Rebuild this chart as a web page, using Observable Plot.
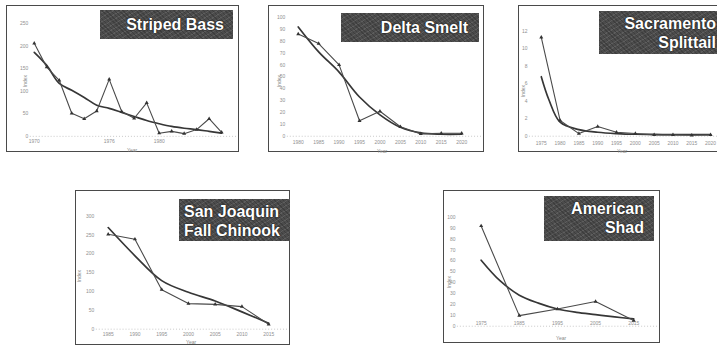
<!DOCTYPE html>
<html><head><meta charset="utf-8">
<script src="https://cdn.jsdelivr.net/npm/d3@7"></script>
<script src="https://cdn.jsdelivr.net/npm/@observablehq/plot@0.6"></script>
<style>
body{margin:0;background:#fff;}
#root{position:relative;width:717px;height:345px;overflow:hidden;font-family:"Liberation Sans",Arial,sans-serif;background:#fff;}
.panel{position:absolute;box-sizing:border-box;border:1.5px solid #4a4a4a;background:#fff;}
.panel svg{position:absolute;left:-1.5px;top:-1.5px;overflow:visible;}
.label{position:absolute;background-color:#4c4c4c;
  background-image:repeating-linear-gradient(45deg,rgba(0,0,0,0.18) 0 1px,transparent 1px 3px),repeating-linear-gradient(-30deg,rgba(255,255,255,0.10) 0 1px,transparent 1px 4px);
  color:#fff;font-weight:bold;font-size:16px;line-height:19px;box-sizing:border-box;white-space:nowrap;
  text-shadow:0 0 1px #111,0 0 2px #222;}
.ax{position:absolute;font-size:5px;color:#888;white-space:nowrap;}
</style></head><body><div id="root"></div><script>
// ---- data ----
const bassYears = [1970,1971,1972,1973,1974,1975,1976,1977,1978,1979,1980,1981,1982,1983,1984,1985];
const bassIndex = [206,153,124,51,39,56,126,55,40,74,7,11,6,15,39,9];
const bassFit   = [186,157,117,102,86,69,62,53,44,35,28,22,18,15,11,7];
const bassYTicks = [0,50,100,150,200,250];
const bassXTicks = [1970,1976,1980];

const smeltYears = [1980,1985,1990,1995,2000,2005,2010,2015,2020];
const smeltIndex = [86,78,60,13,21,8,2,2.5,2.5];
const smeltFit   = [92,71,54,33,18,7.5,2.8,1.7,1.7];
const smeltYTicks = [0,10,20,30,40,50,60,70,80,90,100];

const splitYears = [1975,1980,1985,1990,1995,2000,2005,2010,2015,2020];
const splitIndex = [11.3,1.8,0.3,1.1,0.45,0.3,0.15,0.15,0.1,0.15];
const splitFitYears = [1975,1977,1980,1985,1990,1995,2000,2005,2010,2015,2020];
const splitFit   = [6.8,4.2,1.6,0.75,0.45,0.3,0.22,0.2,0.18,0.18,0.18];
const splitYTicks = [0,2,4,6,8,10,12];

const chinookYears = [1985,1990,1995,2000,2005,2010,2015];
const chinookIndex = [252,239,105,68,66,60,13];
const chinookFit   = [270,195,129,98,75,46,16];
const chinookYTicks = [0,50,100,150,200,250,300];

const shadYears = [1975,1985,1995,2005,2015];
const shadIndex = [92,9.7,15.8,22.7,5.2];
const shadFitYears = [1975,1980,1985,1990,1995,2000,2005,2010,2015];
const shadFit   = [60.6,41.5,28.5,21.2,15.8,12.7,10.6,8.5,6.7];
const shadYTicks = [0,10,20,30,40,50,60,70,80,90,100];

// ---- layout ----
const panels = [
  {name:["Striped Bass"], box:[6,5,233,147], xr:[28,217], yd:[0,250], yr:[132,18], axL:24, xLab:134,
   years:bassYears, obs:bassIndex, fitYears:bassYears, fit:bassFit, yTicks:bassYTicks, xTicks:bassXTicks,
   lab:{l:93,t:4,w:133,h:29,align:"right",pad:9}, yl:[12,72], xl:[120,141]},
  {name:["Delta Smelt"], box:[268,5,216,147], xr:[30,195], yd:[0,100], yr:[132,12], axL:19, xLab:135,
   years:smeltYears, obs:smeltIndex, fitYears:smeltYears, fit:smeltFit, yTicks:smeltYTicks, xTicks:smeltYears,
   lab:{l:72,t:7,w:138,h:29,align:"right",pad:11}, yl:[4,72], xl:[108,142]},
  {name:["Sacramento","Splittail"], box:[518,5,206,147], xr:[23,194], yd:[0,12], yr:[132,26], axL:11, xLab:136,
   years:splitYears, obs:splitIndex, fitYears:splitFitYears, fit:splitFit, yTicks:splitYTicks, xTicks:splitYears,
   lab:{l:80,t:5,w:124,h:43,align:"right",pad:7}, yl:[-2,82], xl:[98,142]},
  {name:["San Joaquin","Fall Chinook"], box:[75,190,215,155], xr:[33,195], yd:[0,300], yr:[140,26], axL:21, xLab:142,
   years:chinookYears, obs:chinookIndex, fitYears:chinookYears, fit:chinookFit, yTicks:chinookYTicks, xTicks:chinookYears,
   lab:{l:103,t:8,w:111,h:42,align:"left",pad:5}, yl:[-3,82], xl:[110,148]},
  {name:["American","Shad"], box:[443,190,217,153], xr:[38,192], yd:[0,100], yr:[137,27], axL:14, xLab:131,
   years:shadYears, obs:shadIndex, fitYears:shadFitYears, fit:shadFit, yTicks:shadYTicks, xTicks:shadYears,
   lab:{l:100,t:5,w:110,h:45,align:"right",pad:10}, yl:[-1,88], xl:[112,144]}
];

const root = document.getElementById("root");
for (const p of panels) {
  const [L,T,W,H] = p.box;
  const div = document.createElement("div");
  div.className = "panel";
  Object.assign(div.style, {left:L+"px", top:T+"px", width:W+"px", height:H+"px"});
  const obs = p.years.map((x,i)=>({x, y:p.obs[i]}));
  const fit = p.fitYears.map((x,i)=>({x, y:p.fit[i]}));
  const chart = Plot.plot({
    width: W, height: H,
    marginLeft: p.axL, marginRight: 0, marginTop: 0, marginBottom: H - p.xLab,
    x: {domain: [p.years[0], p.years[p.years.length-1]], range: p.xr},
    y: {domain: p.yd, range: p.yr},
    style: {background: "transparent", fontSize: "5px", color: "#909090", fontFamily: "Liberation Sans, Arial, sans-serif"},
    marks: [
      Plot.ruleY([0], {stroke: "#bbb", strokeDasharray: "1,2", strokeWidth: 0.8}),
      Plot.axisY({ticks: p.yTicks, tickSize: 0, tickPadding: 2, label: null}),
      Plot.axisX({ticks: p.xTicks, tickSize: 0, tickPadding: 1, label: null, tickFormat: d => String(d)}),
      Plot.line(fit, {x: "x", y: "y", curve: "catmull-rom", stroke: "#363636", strokeWidth: 1.7}),
      Plot.line(obs, {x: "x", y: "y", stroke: "#4a4a4a", strokeWidth: 1.1}),
      Plot.dot(obs, {x: "x", y: "y", symbol: "triangle", r: 1.5, fill: "#333", stroke: "none"})
    ]
  });
  div.appendChild(chart);
  const lab = document.createElement("div");
  lab.className = "label";
  Object.assign(lab.style, {left:p.lab.l+"px", top:p.lab.t+"px", width:p.lab.w+"px", height:p.lab.h+"px",
    textAlign:p.lab.align, paddingTop:(p.name.length>1?"3px":"5px"),
    paddingRight:(p.lab.align==="right"?p.lab.pad+"px":"0"), paddingLeft:(p.lab.align==="left"?p.lab.pad+"px":"0")});
  lab.innerHTML = p.name.join("<br>");
  div.appendChild(lab);
  const yl = document.createElement("div");
  yl.className = "ax"; yl.textContent = "Index";
  Object.assign(yl.style, {left:p.yl[0]+"px", top:p.yl[1]+"px", transform:"rotate(-90deg)"});
  div.appendChild(yl);
  const xl = document.createElement("div");
  xl.className = "ax"; xl.textContent = "Year";
  Object.assign(xl.style, {left:p.xl[0]+"px", top:p.xl[1]+"px"});
  div.appendChild(xl);
  root.appendChild(div);
}
</script></body></html>
